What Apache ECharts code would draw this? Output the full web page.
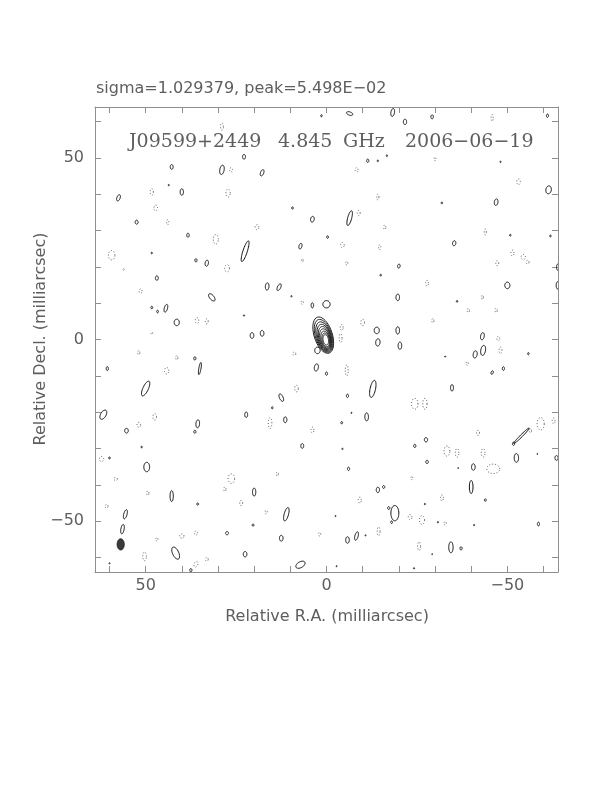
<!DOCTYPE html>
<html>
<head>
<meta charset="utf-8">
<script src="https://cdn.jsdelivr.net/npm/echarts@6/dist/echarts.min.js"></script>
<style>
html,body{margin:0;padding:0;background:#fff;}
#chart{width:612px;height:792px;}
</style>
</head>
<body>
<div id="chart"></div>
<script>
// ---------- data (milliarcsec) ----------
const axisMin = -64, axisMax = 64;
const tickValues = [-60,-50,-40,-30,-20,-10,0,10,20,30,40,50,60];
const labelValues = [-50, 0, 50];
const headerText = 'sigma=1.029379, peak=5.498E\u221202';
const titleParts = ['J09599+2449', '4.845', 'GHz', '2006\u221206\u221219'];
const xTitle = 'Relative R.A. (milliarcsec)';
const yTitle = 'Relative Decl. (milliarcsec)';

// positive contours: [RA, Dec, width, height, tilt(deg)]
const positiveContours = [
[1.4,61.6,.4,.6,0],[22.8,50.3,.8,1.3,0],[42.8,47.5,.8,1.3,0],[28.9,46.7,1.2,2.6,10],
[17.8,45.9,.9,1.8,20],[43.6,42.5,.3,.4,0],[40.0,40.6,.9,1.8,0],[57.5,39.0,.9,1.8,20],
[9.4,36.2,.5,.6,0],[3.9,33.1,1.0,1.6,10],[52.5,32.3,.8,1.1,0],[38.3,28.7,.7,1.1,0],
[-0.3,28.2,.5,.7,0],[7.2,25.7,.8,1.6,15],[22.5,24.3,1.2,6.0,18],[48.3,23.8,.3,.5,0],
[36.1,21.8,.6,.9,0],[33.1,21.0,.9,1.7,10],[46.9,16.9,.8,1.2,0],[16.4,14.6,1.0,2.0,5],
[13.1,14.4,.9,2.0,25],[31.7,11.6,1.2,2.4,-40],[9.7,11.9,.3,.4,0],[48.3,8.8,.5,.7,0],
[46.7,7.7,.5,.7,0],[44.4,8.6,.9,2.2,15],[3.9,9.4,.7,1.4,0],[0,9.7,2.0,2.0,0],
[41.4,4.7,1.4,1.8,0],[22.8,6.6,.3,.4,0],[20.6,1.1,1.0,1.6,0],[17.8,1.7,1.0,1.6,0],
[-6.4,62.2,1.8,.9,20],[-18.3,62.5,1.0,2.2,10],[-21.7,59.9,.9,1.5,0],[-29.2,61.3,.7,1.1,0],
[-61.1,61.6,.6,.9,0],[-11.4,49.2,.6,.9,0],[-14.2,49.2,.3,.5,0],[-16.7,50.6,.3,.5,0],
[-48.1,48.9,.3,.4,0],[-61.4,41.2,1.5,2.2,10],[-31.9,37.6,.4,.5,0],[-46.9,37.8,1.0,1.8,10],
[-6.4,33.4,1.1,4.2,15],[-50.8,28.7,.4,.5,0],[-61.9,28.5,.4,.5,0],[-35.3,26.5,.9,1.4,10],
[-20.0,20.2,.7,1.1,10],[-15.0,17.7,.4,.5,0],[-64.0,19.9,.8,1.8,0],[-50.0,14.9,1.4,1.8,0],
[-63.9,14.9,.8,2.0,0],[-19.7,11.6,1.0,1.8,0],[-36.1,10.5,.4,.5,0],[-13.9,2.5,1.4,1.8,0],
[-19.7,2.5,1.0,2.0,0],[-43.1,0.9,1.0,2.0,10],[36.4,-5.2,.6,.9,0],[35.0,-8.0,.6,3.4,10],
[60.6,-8.0,.6,1.1,0],[2.8,-7.7,1.1,2.0,10],[0,-9.4,.6,.9,0],[50.0,-13.5,1.5,4.4,25],
[12.5,-16.0,1.0,2.2,-25],[15.0,-18.8,.4,.6,0],[61.7,-20.7,1.5,2.8,30],[22.2,-20.7,.8,1.5,0],
[11.4,-22.1,.9,1.6,0],[35.6,-23.2,1.0,2.2,5],[36.4,-25.4,.6,.8,0],[55.3,-25.1,1.0,1.3,0],
[51.1,-29.6,.3,.5,0],[6.7,-29.3,.8,1.3,0],[60.0,-32.6,.4,.6,0],[49.7,-35.1,1.6,2.6,0],
[42.8,-43.1,.9,3.0,0],[20.0,-42.0,.9,2.2,0],[35.6,-45.3,.5,.6,0],[55.6,-48.1,.9,2.6,15],
[11.1,-48.1,1.2,3.8,15],[-2.5,-48.6,.3,.3,0],[56.4,-52.2,.9,2.6,10],[20.3,-51.1,.5,.6,0],
[27.5,-53.3,.8,.9,0],[12.5,-54.7,1.0,1.6,0],[41.7,-58.8,1.7,3.6,-25],[22.5,-59.1,1.0,1.5,0],
[7.2,-62.0,2.8,1.6,-30],[60.0,-61.6,.3,.3,0],[37.5,-63.5,.6,.9,0],[-14.2,-0.8,1.2,2.0,5],
[-20.3,-1.7,1.0,2.0,0],[-41.1,-4.1,1.1,2.0,10],[-43.3,-3.0,1.3,2.8,10],[-55.8,-3.9,.4,.6,0],
[-32.8,-4.7,.3,.3,0],[-45.8,-9.1,.6,1.0,20],[-48.9,-8.0,.6,1.0,0],[-12.8,-13.6,1.5,4.8,12],
[-5.8,-15.5,.6,.9,0],[-34.7,-13.3,.8,1.8,0],[-11.1,-21.3,1.0,2.2,0],[-6.9,-20.2,.3,.3,0],
[-4.2,-22.9,.5,.6,0],[-53.9,-26.5,.6,6.0,45],[-51.7,-28.7,.6,.9,0],[-27.5,-27.6,.9,1.2,0],
[-24.4,-29.3,.6,.9,0],[-4.4,-30.1,.3,.4,0],[-52.5,-32.6,1.2,2.4,0],[-63.6,-32.6,.9,1.3,0],
[-58.3,-31.5,.2,.3,0],[-27.8,-33.7,.7,.9,0],[-6.1,-35.6,.6,.9,0],[-40.6,-35.1,1.0,1.8,0],
[-36.4,-35.4,.2,.3,0],[-40.0,-40.6,1.0,3.6,0],[-14.2,-41.4,.9,1.5,0],[-15.8,-40.6,.6,.8,0],
[-43.9,-44.2,.5,.7,0],[-27.2,-45.3,.3,.4,0],[-18.9,-47.8,2.2,4.2,0],[-17.2,-46.4,.6,.8,0],
[-18.0,-50.3,.5,.7,0],[-30.8,-50.3,.3,.4,0],[-40.8,-51.1,.3,.4,0],[-58.6,-50.8,.6,1.0,0],
[-5.8,-55.2,1.0,1.8,0],[-8.3,-54.1,.9,2.4,15],[-10.8,-53.9,.3,.3,0],[-34.4,-57.2,1.2,3.0,0],
[-37.2,-57.5,.6,.9,0],[-29.2,-59.1,.2,.3,0],[-24.2,-63.0,.3,.4,0],[-2.8,-62.4,.3,.3,0],
[2.5,-3.0,1.5,1.8,0]
];

// negative contours (dotted): [RA, Dec, width, height, tilt(deg)]
const negativeContours = [
[28.9,58.6,.8,2.0,0],[26.4,46.7,.8,1.2,0],[48.3,40.6,.9,1.8,0],[27.2,40.3,1.2,2.2,0],
[47.2,36.2,1.0,1.6,0],[43.9,32.3,.6,1.4,0],[19.2,30.9,1.0,1.4,0],[30.6,27.6,1.4,2.6,0],
[59.4,23.2,1.8,2.6,0],[6.7,21.8,.5,.8,0],[27.5,19.6,1.3,2.0,0],[56.1,19.3,.4,.5,0],
[51.4,13.3,.8,1.2,0],[6.7,10.2,.6,1.0,0],[35.8,5.2,1.0,1.6,0],[33.1,5.0,.8,1.4,0],
[48.3,1.7,.5,.6,0],[-45.8,61.0,.6,1.8,0],[-8.3,46.7,.8,1.2,0],[-30.0,49.7,.5,1.0,0],
[-53.1,43.4,1.0,1.6,0],[-14.2,39.2,.6,1.6,0],[-8.9,34.8,.8,1.4,0],[-16.1,30.9,.6,1.2,0],
[-43.9,29.6,.6,1.6,0],[-4.4,26.0,1.0,1.4,0],[-14.7,25.4,.6,1.4,0],[-51.4,23.8,.8,1.6,0],
[-54.4,22.7,1.2,1.4,0],[-55.6,21.3,.8,1.0,0],[-47.2,21.0,.8,1.4,0],[-5.6,21.0,.6,1.0,0],
[-27.8,15.5,.8,1.6,0],[-43.1,11.6,.5,1.2,0],[-39.2,8.0,.6,1.2,0],[-46.9,8.0,.6,1.2,0],
[-10.0,4.7,1.0,1.8,0],[-29.4,5.2,.6,1.2,0],[-4.2,3.3,.8,1.6,0],[-47.5,0.3,.8,1.2,0],
[-3.9,0.4,.8,2.4,0],[51.9,-3.6,.6,1.2,0],[41.4,-5.0,.6,1.2,0],[44.2,-8.6,1.2,1.8,0],
[8.9,-3.9,.8,1.0,0],[8.3,-13.5,1.0,1.8,0],[47.5,-21.3,1.0,1.8,0],[15.6,-23.0,1.0,3.0,0],
[51.9,-23.5,1.0,1.4,0],[3.9,-24.9,.8,1.6,0],[62.2,-32.9,1.2,1.4,0],[26.3,-38.3,1.8,2.6,0],
[13.6,-37.0,.6,1.2,0],[58.3,-38.4,1.0,.8,0],[49.4,-42.3,.6,1.2,0],[28.1,-41.2,.6,1.2,0],
[23.6,-45.0,.8,1.4,0],[60.8,-45.9,.8,1.0,0],[16.7,-47.5,.6,1.0,0],[1.9,-53.6,.6,1.0,0],
[46.9,-55.0,.6,1.0,0],[40.0,-54.1,1.2,1.2,0],[36.1,-53.3,.8,1.2,0],[50.3,-59.7,1.0,2.4,0],
[33.1,-60.5,.8,1.0,0],[36.1,-61.9,1.0,1.6,20],[-5.6,-8.5,.8,3.0,0],[-24.4,-17.7,1.8,3.0,0],
[-27.2,-17.7,1.2,3.0,0],[-41.9,-25.7,.8,1.4,0],[-59.2,-23.2,2.0,3.4,0],[-62.8,-22.4,.8,1.6,0],
[-56.4,-25.1,.6,1.2,0],[-33.3,-30.7,1.6,2.8,0],[-36.1,-31.2,1.0,2.4,0],[-43.3,-31.2,1.0,2.4,0],
[-46.1,-35.6,3.6,2.6,0],[-23.6,-38.1,.5,1.0,0],[-9.2,-44.2,.8,1.6,0],[-31.9,-43.6,.8,1.6,0],
[-23.1,-48.9,1.0,1.4,0],[-26.4,-49.7,1.4,2.4,0],[-32.8,-50.6,.6,1.0,0],[-14.4,-52.8,.8,2.4,0],
[-25.6,-56.9,.8,2.4,0],[-38.9,-6.6,.6,1.0,0],[-48.1,-3.0,.8,1.8,0]
];

// core source nested contours (outer -> inner)
const coreRA   = [0.9, 0.8, 0.7, 0.6, 0.5, 0.4, 0.3, 0.2, 0.2];
const coreDec  = [1.2, 1.0, 0.8, 0.6, 0.4, 0.2, 0.0, -0.1, -0.1];
const coreW    = [5.0, 4.5, 4.0, 3.6, 3.2, 2.8, 2.4, 2.0, 1.5];
const coreH    = [10.4, 9.4, 8.4, 7.4, 6.5, 5.6, 4.7, 3.8, 2.9];
const coreTilt = [-18, -18, -17, -16, -15, -14, -13, -12, -10];

// restoring beam: [RA, Dec, width, height, tilt]
const beam = [[56.9, -56.4, 2.0, 3.1, 0]];

// ---------- rendering ----------
const coreData = coreRA.map((v, i) => [v, coreDec[i], coreW[i], coreH[i], coreTilt[i]]);

function ellipseRenderer(style) {
  return function (params, api) {
    const x = api.value(0), y = api.value(1), w = api.value(2), h = api.value(3), t = api.value(4);
    const c = api.coord([x, y]);
    const s = api.size([w, h]);
    const rx = Math.abs(s[0]) / 2, ry = Math.abs(s[1]) / 2;
    const th = t * Math.PI / 180;
    const pts = [];
    for (let i = 0; i < 40; i++) {
      const a = i / 40 * Math.PI * 2;
      const u = rx * Math.cos(a), v = ry * Math.sin(a);
      const up = u * Math.cos(th) + v * Math.sin(th);
      const vp = -u * Math.sin(th) + v * Math.cos(th);
      pts.push([c[0] + up, c[1] - vp]);
    }
    return { type: 'polygon', shape: { points: pts }, style: style };
  };
}

const axisColor = '#8f8f8f';
const textColor = '#5e5e5e';
const labelFmt = v => (v < 0 ? '\u2212' + Math.abs(v) : String(v));

const baseAxis = {
  type: 'value', min: axisMin, max: axisMax,
  splitLine: { show: false },
  axisLine: { show: true, onZero: false, lineStyle: { color: axisColor, width: 1 } },
  axisTick: { show: true, inside: true, length: 6, customValues: tickValues, lineStyle: { color: axisColor } }
};

const chart = echarts.init(document.getElementById('chart'), null, { renderer: 'canvas' });
chart.setOption({
  animation: false,
  backgroundColor: '#fff',
  grid: { left: 95, right: 54, top: 107, bottom: 220 },
  xAxis: [
    Object.assign({}, baseAxis, { position: 'bottom', inverse: true,
      axisLabel: { show: true, customValues: labelValues, formatter: labelFmt, color: textColor,
        fontSize: 16, fontFamily: 'DejaVu Sans', margin: 6 } }),
    Object.assign({}, baseAxis, { position: 'top', inverse: true, axisLabel: { show: false } })
  ],
  yAxis: [
    Object.assign({}, baseAxis, { position: 'left',
      axisLabel: { show: true, customValues: labelValues, formatter: labelFmt, color: textColor,
        fontSize: 16, fontFamily: 'DejaVu Sans', margin: 11 } }),
    Object.assign({}, baseAxis, { position: 'right', axisLabel: { show: false } })
  ],
  graphic: [
    { type: 'text', left: 96, top: 81, style: { text: headerText, fill: textColor, font: '16px "DejaVu Sans"' } },
    { type: 'text', x: 129, y: 142, style: { text: titleParts[0], fill: textColor, font: '19px "DejaVu Serif"', verticalAlign: 'middle' } },
    { type: 'text', x: 278, y: 142, style: { text: titleParts[1], fill: textColor, font: '19px "DejaVu Serif"', verticalAlign: 'middle' } },
    { type: 'text', x: 343, y: 142, style: { text: titleParts[2], fill: textColor, font: '19px "DejaVu Serif"', verticalAlign: 'middle' } },
    { type: 'text', x: 405, y: 142, style: { text: titleParts[3], fill: textColor, font: '19px "DejaVu Serif"', verticalAlign: 'middle' } },
    { type: 'text', x: 327, y: 617, style: { text: xTitle, fill: textColor, font: '16px "DejaVu Sans"', align: 'center', verticalAlign: 'middle' } },
    { type: 'text', x: 41, y: 339, rotation: Math.PI / 2, style: { text: yTitle, fill: textColor, font: '16px "DejaVu Sans"', align: 'center', verticalAlign: 'middle' } }
  ],
  series: [
    { type: 'custom', name: 'negative', clip: true, data: negativeContours,
      renderItem: ellipseRenderer({ fill: 'none', stroke: '#555', lineWidth: 1, lineDash: [1, 2] }) },
    { type: 'custom', name: 'positive', clip: true, data: positiveContours,
      renderItem: ellipseRenderer({ fill: 'none', stroke: '#111', lineWidth: 1 }) },
    { type: 'custom', name: 'core', clip: true, data: coreData,
      renderItem: ellipseRenderer({ fill: 'none', stroke: '#222', lineWidth: 1 }) },
    { type: 'custom', name: 'beam', clip: true, data: beam,
      renderItem: ellipseRenderer({ fill: '#3a3a3a', stroke: '#222', lineWidth: 0.8 }) }
  ]
});
</script>
</body>
</html>
